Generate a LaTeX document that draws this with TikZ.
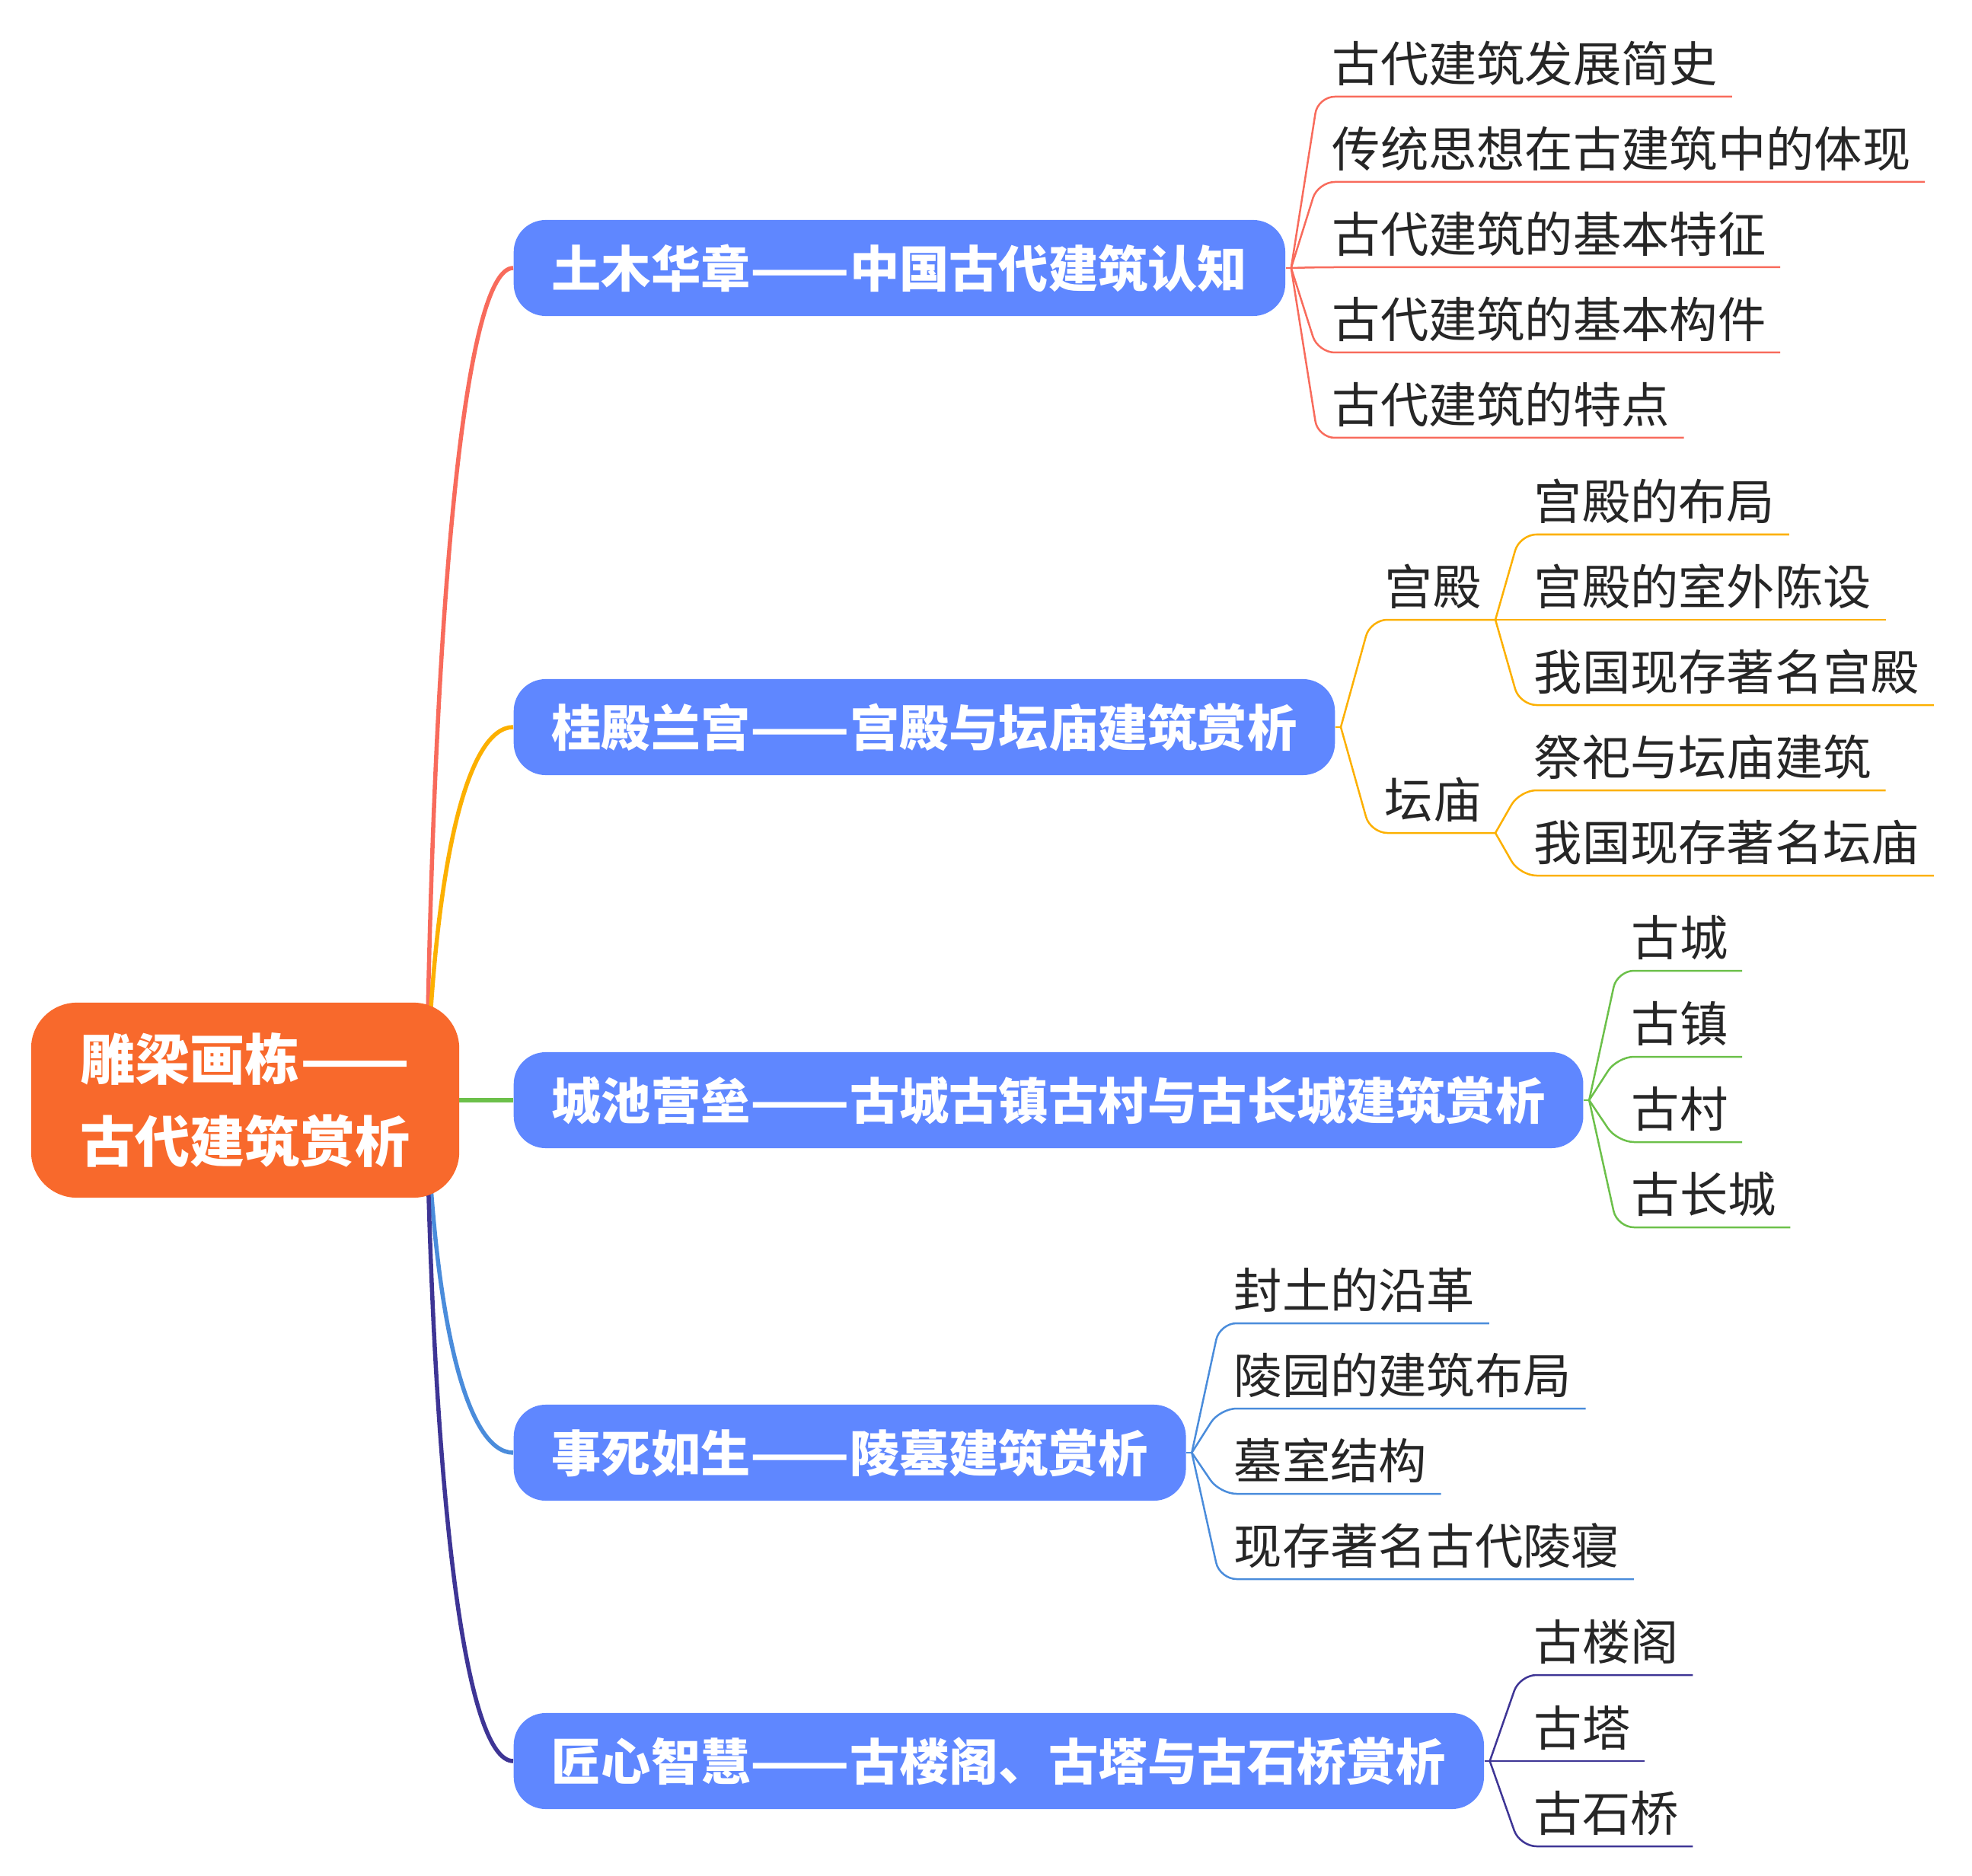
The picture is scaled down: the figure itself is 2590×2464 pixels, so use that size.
\documentclass[tikz,border=0pt]{standalone}
\usepackage{graphicx}
\usepackage{fontspec}
\setmainfont{Noto Sans CJK SC}
\usetikzlibrary{backgrounds}

\definecolor{rootorange}{HTML}{F8692C}
\definecolor{topicblue}{HTML}{5F87FF}
\definecolor{leaftext}{HTML}{262626}
\definecolor{linered}{HTML}{F86B5C}
\definecolor{lineyellow}{HTML}{FCB000}
\definecolor{linegreen}{HTML}{6CC04A}
\definecolor{lineblue}{HTML}{4A8CDB}
\definecolor{linepurple}{HTML}{3E3595}

\newcommand{\longdash}{\resizebox{2em}{\height}{——}}

\tikzset{
    rootbox/.style={fill=rootorange, text=white, rounded corners=0.6cm, minimum width=5.62cm, minimum height=2.56cm, align=left, font=\bfseries\fontsize{20.5}{30.5}\selectfont},
    topic/.style={fill=topicblue, text=white, rounded corners=0.42cm, minimum height=1.26cm, inner xsep=0.5cm, anchor=west, font=\bfseries\fontsize{18.55}{22}\selectfont},
    leaf/.style={anchor=south west, inner xsep=0.18cm, inner ysep=0.185cm, text depth=0pt, text=leaftext, font=\fontsize{18}{22}\selectfont},
    mainline/.style={line width=0.055cm},
    subline/.style={line width=0.025cm, rounded corners=0.22cm},
}

\begin{document}
\begin{tikzpicture}[x=0.01cm, y=-0.01cm]
    \useasboundingbox (0,0) rectangle (2590,2464);

    \node[rootbox] (root) at (322,1445) {雕梁画栋\longdash\\古代建筑赏析};
    \coordinate (hub) at (560,1445);

    \node[topic] (n1) at (674,352) {土木华章\longdash 中国古代建筑认知};
    \node[topic] (n2) at (674,955) {桂殿兰宫\longdash 宫殿与坛庙建筑赏析};
    \node[topic] (n3) at (674,1445) {城池营垒\longdash 古城古镇古村与古长城建筑赏析};
    \node[topic] (n4) at (674,1908) {事死如生\longdash 陵墓建筑赏析};
    \node[topic] (n5) at (674,2313) {匠心智慧\longdash 古楼阁、古塔与古石桥赏析};

    \coordinate (f1) at ([xshift=0.07cm]n1.east);
    \coordinate (f2) at ([xshift=0.07cm]n2.east);
    \coordinate (f3) at ([xshift=0.07cm]n3.east);
    \coordinate (f4) at ([xshift=0.07cm]n4.east);
    \coordinate (f5) at ([xshift=0.07cm]n5.east);

    \node[leaf] (a1) at (1731,127) {古代建筑发展简史};
    \node[leaf] (a2) at (1731,239) {传统思想在古建筑中的体现};
    \node[leaf] (a3) at (1731,351) {古代建筑的基本特征};
    \node[leaf] (a4) at (1731,463) {古代建筑的基本构件};
    \node[leaf] (a5) at (1731,575) {古代建筑的特点};

    \node[leaf] (s1) at (1800,814) {宫殿};
    \node[leaf] (s2) at (1800,1094) {坛庙};
    \node[leaf] (b1) at (1996,702) {宫殿的布局};
    \node[leaf] (b2) at (1996,814) {宫殿的室外陈设};
    \node[leaf] (b3) at (1996,926) {我国现存著名宫殿};
    \node[leaf] (b4) at (1996,1038) {祭祀与坛庙建筑};
    \node[leaf] (b5) at (1996,1150) {我国现存著名坛庙};

    \node[leaf] (c1) at (2124,1275) {古城};
    \node[leaf] (c2) at (2124,1388) {古镇};
    \node[leaf] (c3) at (2124,1500) {古村};
    \node[leaf] (c4) at (2124,1612) {古长城};

    \node[leaf] (d1) at (1602,1738) {封土的沿革};
    \node[leaf] (d2) at (1602,1850) {陵园的建筑布局};
    \node[leaf] (d3) at (1602,1962) {墓室结构};
    \node[leaf] (d4) at (1602,2074) {现存著名古代陵寝};

    \node[leaf] (e1) at (1996,2200) {古楼阁};
    \node[leaf] (e2) at (1996,2313) {古塔};
    \node[leaf] (e3) at (1996,2425) {古石桥};

    \begin{scope}[on background layer]
        \draw[mainline, linered] (hub) .. controls +(10,-700) and +(-60,0) .. (n1.west);
        \draw[mainline, lineyellow] (hub) .. controls +(10,-314) and +(-60,0) .. (n2.west);
        \draw[mainline, linegreen] (hub) -- (n3.west);
        \draw[mainline, lineblue] (hub) .. controls +(10,296) and +(-60,0) .. (n4.west);
        \draw[mainline, linepurple] (hub) .. controls +(10,556) and +(-60,0) .. (n5.west);

        \draw[subline, linered] (n1.east) -- (f1);
        \draw[subline, linered] (f1) -- (a1.south west) -- (a1.south east);
        \draw[subline, linered] (f1) -- (a2.south west) -- (a2.south east);
        \draw[subline, linered] (f1) -- (a3.south west) -- (a3.south east);
        \draw[subline, linered] (f1) -- (a4.south west) -- (a4.south east);
        \draw[subline, linered] (f1) -- (a5.south west) -- (a5.south east);

        \draw[subline, lineyellow] (n2.east) -- (f2);
        \draw[subline, lineyellow] (f2) -- (s1.south west) -- (s1.south east);
        \draw[subline, lineyellow] (f2) -- (s2.south west) -- (s2.south east);
        \draw[subline, lineyellow] (s1.south east) -- (b1.south west) -- (b1.south east);
        \draw[subline, lineyellow] (s1.south east) -- (b2.south west) -- (b2.south east);
        \draw[subline, lineyellow] (s1.south east) -- (b3.south west) -- (b3.south east);
        \draw[subline, lineyellow] (s2.south east) -- (b4.south west) -- (b4.south east);
        \draw[subline, lineyellow] (s2.south east) -- (b5.south west) -- (b5.south east);

        \draw[subline, linegreen] (n3.east) -- (f3);
        \draw[subline, linegreen] (f3) -- (c1.south west) -- (c1.south east);
        \draw[subline, linegreen] (f3) -- (c2.south west) -- (c2.south east);
        \draw[subline, linegreen] (f3) -- (c3.south west) -- (c3.south east);
        \draw[subline, linegreen] (f3) -- (c4.south west) -- (c4.south east);

        \draw[subline, lineblue] (n4.east) -- (f4);
        \draw[subline, lineblue] (f4) -- (d1.south west) -- (d1.south east);
        \draw[subline, lineblue] (f4) -- (d2.south west) -- (d2.south east);
        \draw[subline, lineblue] (f4) -- (d3.south west) -- (d3.south east);
        \draw[subline, lineblue] (f4) -- (d4.south west) -- (d4.south east);

        \draw[subline, linepurple] (n5.east) -- (f5);
        \draw[subline, linepurple] (f5) -- (e1.south west) -- (e1.south east);
        \draw[subline, linepurple] (f5) -- (e2.south west) -- (e2.south east);
        \draw[subline, linepurple] (f5) -- (e3.south west) -- (e3.south east);
    \end{scope}
\end{tikzpicture}
\end{document}
